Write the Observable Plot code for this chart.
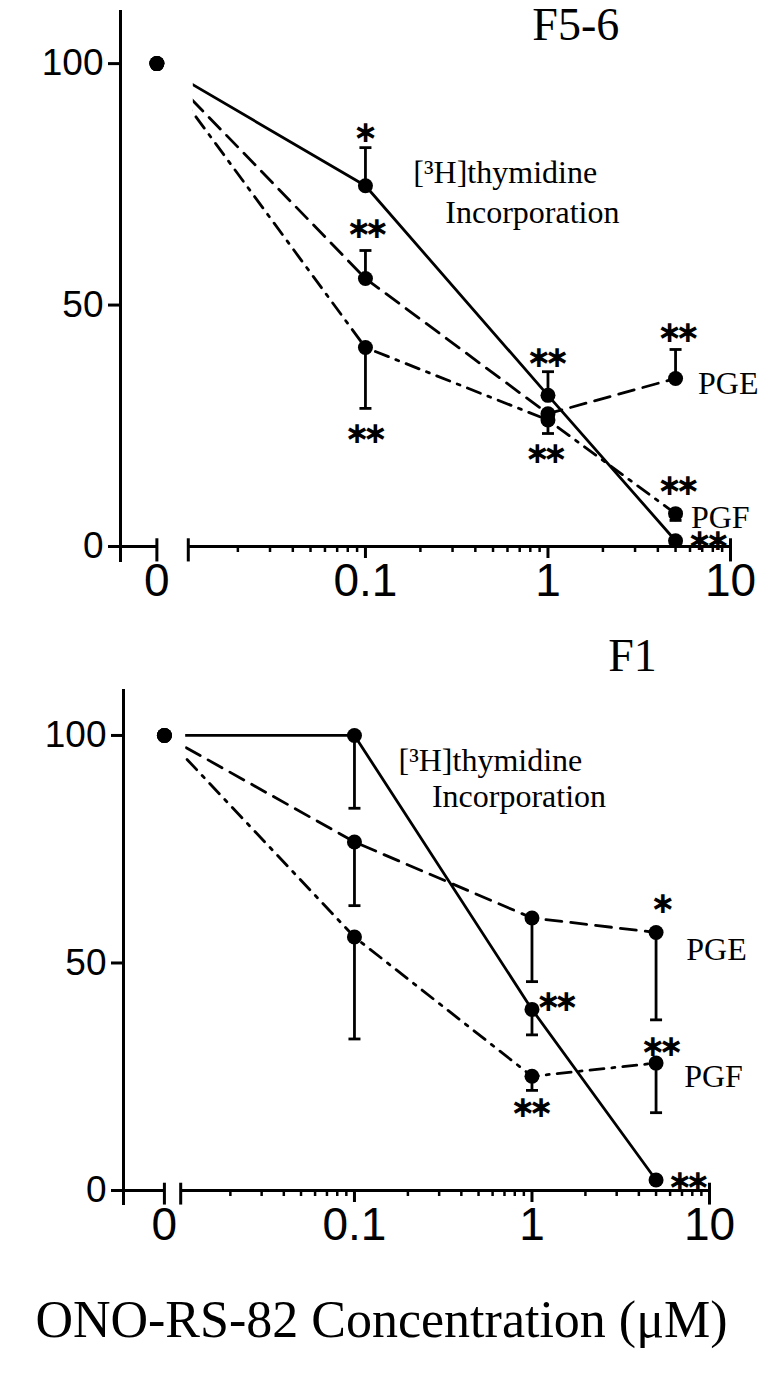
<!DOCTYPE html>
<html><head><meta charset="utf-8">
<script src="https://cdn.jsdelivr.net/npm/d3@7"></script>
<script src="https://cdn.jsdelivr.net/npm/@observablehq/plot@0.6"></script>
<style>
body{margin:0;background:#fff;width:763px;}
#top,#bottom{width:763px;}
#caption{width:763px;height:102px;line-height:90px;text-align:center;font-family:"Liberation Serif","Times New Roman",serif;font-size:52px;color:#000;white-space:nowrap;}
svg{overflow:visible;}
g[font-family="DejaVu Sans"] text{letter-spacing:-7px;}
</style></head><body>
<div id="top"></div>
<div id="bottom"></div>
<div id="caption">ONO-RS-82 Concentration (μM)</div>
<script>
// ---------- data ----------
const concentrations = [0, 0.1, 1, 5];
const seriesNames = ["thymidine", "PGE", "PGF"];
const yTicks = [0, 50, 100];
const xTickValues = [0.1, 1, 10];
const xTickLabels = ["0", "0.1", "1", "10"];
const xMinorTicks = [0.02,0.03,0.04,0.05,0.06,0.07,0.08,0.09,0.2,0.3,0.4,0.5,0.6,0.7,0.8,0.9,2,3,4,5,6,7,8,9];

// Panel F5-6
const f56Title = "F5-6";
const f56Thymidine = [100, 74.7, 31.3, 1.2];
const f56ThymidineErr = [0, 7.9, 4.9, 0];
const f56PGE = [100, 55.5, 27.5, 34.8];
const f56PGEErr = [0, 5.8, 0, 6.0];
const f56PGF = [100, 41.2, 26.2, 6.8];
const f56PGFErr = [0, -12.6, -2.8, -1.4];
const f56StarText = ["∗", "∗∗", "∗∗", "∗∗", "∗∗", "∗∗", "∗∗", "∗∗"];
const f56StarX = [0.1, 0.103, 0.101, 1.0, 0.98, 5.2, 5.2, 7.6];
const f56StarY = [85.7, 65.8, 23.4, 39.1, 19.3, 44.3, 12.6, 1.2];
const f56LabelText = ["[³H]thymidine", "Incorporation", "PGE", "PGF"];
const f56LabelX = [0.183, 0.274, 6.64, 6.07];
const f56LabelY = [77.4, 69.2, 33.7, 6.0];
const f56TitleX = 1.42, f56TitleY = 108;

// Panel F1
const f1Title = "F1";
const f1Thymidine = [100, 100, 39.8, 2.3];
const f1ThymidineErr = [0, -16, -5.6, 0];
const f1PGE = [100, 76.6, 59.9, 56.7];
const f1PGEErr = [0, -14, -14, -19.2];
const f1PGF = [100, 55.7, 25.1, 28.0];
const f1PGFErr = [0, -22.4, -3.1, -10.9];
const f1StarText = ["∗∗", "∗∗", "∗", "∗∗", "∗∗"];
const f1StarX = [1.39, 1.0, 5.46, 5.4, 7.65];
const f1StarY = [41.6, 18.2, 63.2, 31.6, 2.0];
const f1LabelText = ["[³H]thymidine", "Incorporation", "PGE", "PGF"];
const f1LabelX = [0.177, 0.273, 7.4, 7.2];
const f1LabelY = [94.4, 86.6, 53, 25];
const f1TitleX = 3.68, f1TitleY = 117.5;

// ---------- styles ----------
const dashes = {thymidine: null, PGE: "16,9", PGF: "14,8,3,8"};
const SW = 2.8;
const capSymbol = {draw(ctx, size){ const w = Math.sqrt(size/Math.PI); ctx.moveTo(-w,0); ctx.lineTo(w,0); }};

function panel(cfg){
  const zero = cfg.zero;
  const px = c => c === 0 ? zero : c;
  const vals = [cfg.thy, cfg.pge, cfg.pgf];
  const errs = [cfg.thyErr, cfg.pgeErr, cfg.pgfErr];
  const rows = [];
  seriesNames.forEach((s, si) => concentrations.forEach((c, i) => rows.push({series: s, conc: c, xpos: px(c), value: vals[si][i], err: errs[si][i]})));
  const errRows = rows.filter(d => d.err !== 0).map(d => ({...d, end: d.value + d.err}));
  const stars = cfg.starText.map((t, i) => ({t, x: cfg.starX[i], y: cfg.starY[i]}));
  const labels = cfg.labelText.map((t, i) => ({t, x: cfg.labelX[i], y: cfg.labelY[i]}));
  const xLabels = [zero, ...xTickValues].map((v, i) => ({v, t: xTickLabels[i]}));
  const marks = [];
  seriesNames.forEach(s => {
    marks.push(Plot.line(rows.filter(d => d.series === s), {x: "xpos", y: "value", stroke: "black", strokeWidth: SW, strokeDasharray: dashes[s], strokeLinejoin: "round"}));
  });
  // hide the part of the lines inside the axis break
  marks.push(Plot.rect([0], {x1: zero * 1.03, x2: cfg.hideEnd, y1: 50, y2: 101, fill: "white"}));
  // axes
  marks.push(Plot.ruleX([cfg.xmin], {y1: -3.3, y2: cfg.ymax, strokeWidth: 3}));
  marks.push(Plot.axisY({ticks: yTicks, tickSize: 12, tickPadding: 5, fontSize: 37, label: null, strokeWidth: 3, fontFamily: "Liberation Sans"}));
  marks.push(Plot.ruleY([0], {x1: cfg.xmin, x2: zero, strokeWidth: 3}));
  marks.push(Plot.ruleY([0], {x1: cfg.logStart, x2: 10, strokeWidth: 3}));
  marks.push(Plot.ruleX([zero, cfg.logStart, 10], {y1: 1.6, y2: -3.2, strokeWidth: 3}));
  marks.push(Plot.axisX({ticks: xTickValues, tickSize: 12, label: null, strokeWidth: 3, tickFormat: () => ""}));
  marks.push(Plot.axisX({ticks: xMinorTicks, tickSize: 6, label: null, strokeWidth: 2.5, tickFormat: () => ""}));
  marks.push(Plot.text(xLabels, {x: "v", y: 0, text: "t", lineAnchor: "top", dy: 17, fontSize: 46, fontFamily: "Liberation Sans", fill: "black"}));
  // error bars
  marks.push(Plot.ruleX(errRows, {x: "xpos", y1: "value", y2: "end", strokeWidth: SW}));
  marks.push(Plot.dot(errRows, {x: "xpos", y: "end", symbol: capSymbol, r: 6, stroke: "black", fill: "none", strokeWidth: SW}));
  // points
  marks.push(Plot.dot(rows, {x: "xpos", y: "value", r: 7.5, fill: "black"}));
  // significance stars
  marks.push(Plot.text(stars, {x: "x", y: "y", text: "t", fontSize: 30, fontWeight: "bold", fontFamily: "DejaVu Sans", dx: -3.5, textAnchor: "middle", fill: "black"}));
  // labels
  marks.push(Plot.text(labels, {x: "x", y: "y", text: "t", fontSize: 32, fontFamily: "Liberation Serif", textAnchor: "start", fill: "black"}));
  marks.push(Plot.text([cfg.title], {x: cfg.titleX, y: cfg.titleY, text: d => d, fontSize: 46, fontFamily: "Liberation Serif", textAnchor: "middle", fill: "black"}));
  return Plot.plot({
    width: 763, height: cfg.height,
    marginLeft: cfg.marginLeft, marginRight: cfg.marginRight, marginTop: cfg.marginTop, marginBottom: cfg.marginBottom,
    x: {type: "log", domain: [cfg.xmin, 10], axis: null},
    y: {domain: [0, cfg.ymax], axis: null},
    style: {background: "white", color: "black", fontFamily: "Liberation Sans", overflow: "visible"},
    marks
  });
}

document.getElementById("top").append(panel({
  title: f56Title, titleX: f56TitleX, titleY: f56TitleY,
  thy: f56Thymidine, thyErr: f56ThymidineErr, pge: f56PGE, pgeErr: f56PGEErr, pgf: f56PGF, pgfErr: f56PGFErr,
  starText: f56StarText, starX: f56StarX, starY: f56StarY,
  labelText: f56LabelText, labelX: f56LabelX, labelY: f56LabelY,
  zero: 0.0072, logStart: 0.0107, hideEnd: 0.0114, xmin: 0.00455, ymax: 111,
  height: 615, marginLeft: 120, marginRight: 33, marginTop: 10, marginBottom: 69
}));
document.getElementById("bottom").append(panel({
  title: f1Title, titleX: f1TitleX, titleY: f1TitleY,
  thy: f1Thymidine, thyErr: f1ThymidineErr, pge: f1PGE, pgeErr: f1PGEErr, pgf: f1PGF, pgfErr: f1PGFErr,
  starText: f1StarText, starX: f1StarX, starY: f1StarY,
  labelText: f1LabelText, labelX: f1LabelX, labelY: f1LabelY,
  zero: 0.0085, logStart: 0.0105, hideEnd: 0.0112, xmin: 0.005, ymax: 110.1,
  height: 660, marginLeft: 123, marginRight: 54, marginTop: 74, marginBottom: 85
}));
</script>
</body></html>
